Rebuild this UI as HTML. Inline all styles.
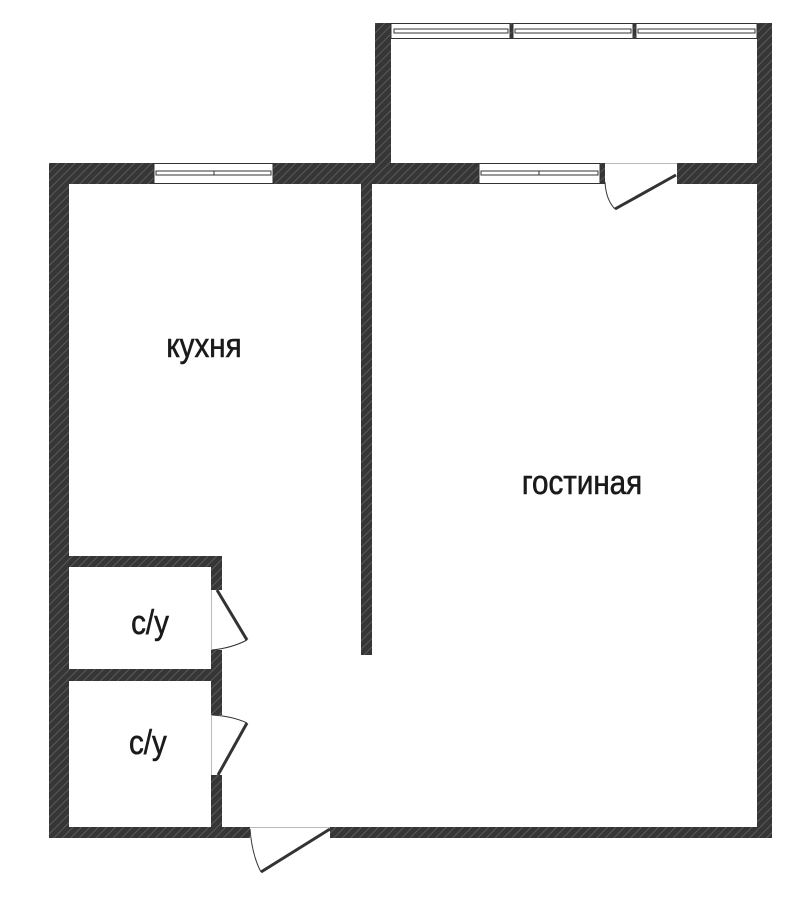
<!DOCTYPE html>
<html><head><meta charset="utf-8"><style>
html,body{margin:0;padding:0;background:#fff;}
svg{display:block;}
text{font-family:"Liberation Sans",sans-serif;font-size:34px;fill:#1a1a1a;}
</style></head><body>
<svg width="804" height="910" viewBox="0 0 804 910" xmlns="http://www.w3.org/2000/svg">
<defs>
<pattern id="h" width="6" height="6" patternUnits="userSpaceOnUse" patternTransform="rotate(45)">
<rect width="6" height="6" fill="#363636"/>
<rect x="0" y="0" width="1" height="6" fill="#5a5a5a"/>
</pattern>
</defs>
<g fill="url(#h)">
<rect x="375" y="23" width="16" height="161"/>
<rect x="757" y="23" width="15" height="161"/>
<rect x="49" y="163" width="105" height="21"/>
<rect x="273" y="163" width="206" height="21"/>
<rect x="600" y="163" width="5" height="21"/>
<rect x="677" y="163" width="95" height="21"/>
<rect x="49" y="163" width="20" height="675"/>
<rect x="757" y="163" width="15" height="675"/>
<rect x="49" y="827" width="201" height="11"/>
<rect x="330" y="827" width="442" height="11"/>
<rect x="361" y="184" width="11" height="471"/>
<rect x="49" y="556" width="173" height="11"/>
<rect x="49" y="669" width="173" height="12"/>
<rect x="211" y="556" width="11" height="34"/>
<rect x="211" y="650" width="11" height="65"/>
<rect x="211" y="775" width="11" height="55"/>
<rect x="510" y="23" width="3" height="16"/>
<rect x="633" y="23" width="3" height="16"/>
</g>
<g fill="#fff" stroke="#333" stroke-width="1">
<rect x="391" y="23.5" width="119" height="15"/>
<rect x="513" y="23.5" width="120" height="15"/>
<rect x="636" y="23.5" width="121" height="15"/>
<rect x="394" y="29" width="114" height="4"/>
<rect x="515" y="29" width="116" height="4"/>
<rect x="638" y="29" width="117" height="4"/>
<rect x="154" y="163.5" width="119" height="20"/>
<rect x="156" y="171" width="115" height="4"/>
<rect x="479" y="163.5" width="121" height="20"/>
<rect x="481" y="171" width="117" height="4"/>
</g>
<line x1="214" y1="171" x2="214" y2="175" stroke="#333"/>
<line x1="539" y1="171" x2="539" y2="175" stroke="#333"/>
<g stroke="#bbb" stroke-width="1" fill="none">
<line x1="605" y1="163.5" x2="677" y2="163.5"/>
<line x1="211.5" y1="590" x2="211.5" y2="650"/>
<line x1="211.5" y1="715" x2="211.5" y2="775"/>
<line x1="250" y1="827.5" x2="330" y2="827.5"/>
</g>
<g stroke="#333" stroke-width="3" fill="none">
<line x1="676" y1="175" x2="615" y2="209"/>
<line x1="217" y1="590" x2="247" y2="640"/>
<line x1="218" y1="775" x2="247" y2="723"/>
<line x1="330" y1="829" x2="261" y2="872"/>
</g>
<g stroke="#333" stroke-width="1" fill="none">
<path d="M605 182 Q606 200 615 209"/>
<path d="M212 650 Q232 648 247 640"/>
<path d="M212 715 Q232 716 247 723"/>
<path d="M250 829 Q252 855 261 872"/>
</g>
<g transform="scale(0.87,1)" stroke="#1a1a1a" stroke-width="0.6">
<text x="234.5" y="357" text-anchor="middle">кухня</text>
<text x="669" y="494" text-anchor="middle">гостиная</text>
<text x="172.4" y="634" text-anchor="middle">с/у</text>
<text x="170" y="754" text-anchor="middle">с/у</text>
</g>
</svg>
</body></html>
